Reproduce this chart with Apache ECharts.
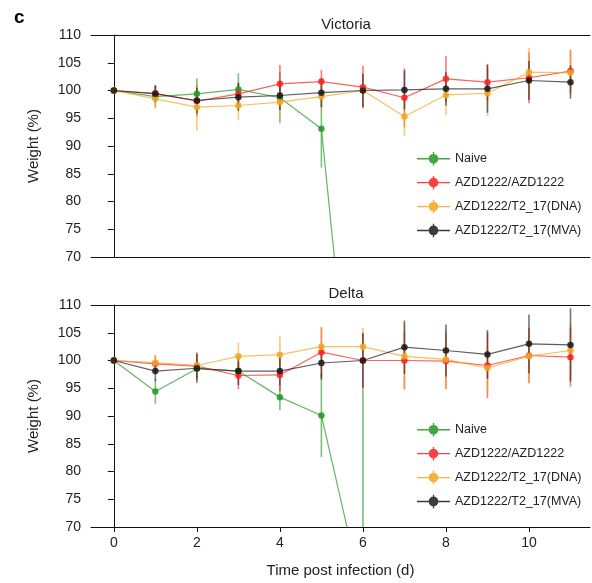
<!DOCTYPE html>
<html>
<head>
<meta charset="utf-8">
<script src="https://cdn.jsdelivr.net/npm/echarts@6/dist/echarts.min.js"></script>
<style>
  html, body { margin: 0; padding: 0; background: #fff; }
  #chart { width: 592px; height: 583px; }
</style>
</head>
<body>
<div id="chart"></div>
<script>
// days post infection
const days = [0, 1, 2, 3, 4, 5, 6, 7, 8, 9, 10, 11];
const xTicks = [0, 2, 4, 6, 8, 10];
const groups = ['Naive', 'AZD1222/AZD1222', 'AZD1222/T2_17(DNA)', 'AZD1222/T2_17(MVA)'];

// Victoria panel (mean weight %, error)
const vicNaive = [100, 98.9, 99.4, 100.2, 98.7, 93.1, 19];
const vicNaiveErr = [0, 1.9, 2.8, 2.9, 4.6, 7.0, 0];
const vicAzd = [100, 99.5, 98.1, 99.4, 101.2, 101.6, 100.6, 98.7, 102.1, 101.5, 102.3, 103.5];
const vicAzdErr = [0, 1.5, 2.8, 2.0, 3.4, 2.1, 3.8, 5.3, 4.1, 3.3, 4.6, 3.8];
const vicDna = [100, 98.5, 97.0, 97.3, 97.9, 98.9, 100.0, 95.3, 99.2, 99.5, 103.3, 103.2];
const vicDnaErr = [0, 1.8, 4.2, 2.7, 2.3, 2.5, 3.0, 3.5, 3.6, 4.1, 4.4, 4.0];
const vicMva = [100, 99.4, 98.2, 98.8, 99.1, 99.6, 100.0, 100.1, 100.3, 100.3, 101.8, 101.5];
const vicMvaErr = [0, 1.5, 2.3, 2.5, 2.6, 2.6, 3.0, 3.5, 3.0, 4.3, 3.5, 3.0];

// Delta panel
const delNaive = [100, 94.4, 98.5, 98.1, 93.4, 90.1, 57.5];
const delNaiveErr = [0, 2.2, 1.5, 1.5, 2.3, 7.5, 37.5];
const delAzd = [100, 99.4, 99.0, 97.3, 97.4, 101.5, 100.0, 100.0, 99.9, 99.1, 100.9, 100.6];
const delAzdErr = [0, 1.5, 2.5, 2.5, 3.0, 4.5, 5.0, 5.2, 5.0, 5.9, 5.0, 5.3];
const delDna = [100, 99.6, 99.1, 100.75, 101.05, 102.5, 102.5, 100.75, 100.2, 98.65, 100.8, 101.8];
const delDnaErr = [0, 1.4, 2.0, 2.5, 3.4, 3.5, 3.4, 6.0, 5.4, 4.0, 4.5, 4.8];
const delMva = [100, 98.1, 98.6, 98.1, 98.1, 99.55, 100.0, 102.4, 101.8, 101.1, 103.0, 102.8];
const delMvaErr = [0, 1.8, 2.6, 2.5, 2.5, 3.0, 4.9, 4.8, 4.7, 4.4, 5.3, 6.6];

const rgb = ['34,150,34', '255,30,30', '245,165,30', '25,25,25'];
const FONT = 'Liberation Sans, Arial, sans-serif';
const YMIN = 70, YMAX = 110;
const legendIcon = 'path://M0,6.3h34v1.4h-34z M16.3,0h1.4v14h-1.4z M22,7a5,5 0 1,1 -10,0a5,5 0 1,1 10,0z';

const panels = [
  { means: [vicNaive, vicAzd, vicDna, vicMva], errs: [vicNaiveErr, vicAzdErr, vicDnaErr, vicMvaErr] },
  { means: [delNaive, delAzd, delDna, delMva], errs: [delNaiveErr, delAzdErr, delDnaErr, delMvaErr] }
];

const series = [];
panels.forEach((p, pi) => {
  p.means.forEach((vals, gi) => {
    const errData = vals.map((v, i) => [days[i], v - p.errs[gi][i], v + p.errs[gi][i]]);
    series.push({
      type: 'custom',
      name: groups[gi] + ' err ' + pi,
      xAxisIndex: pi,
      yAxisIndex: pi,
      z: 2 + gi,
      data: errData,
      renderItem: function (params, api) {
        const lo = Math.max(api.value(1), YMIN);
        const hi = Math.min(api.value(2), YMAX);
        if (hi <= lo) return null;
        const a = api.coord([api.value(0), lo]);
        const b = api.coord([api.value(0), hi]);
        return {
          type: 'line',
          shape: { x1: a[0], y1: a[1], x2: b[0], y2: b[1] },
          style: { stroke: 'rgba(' + rgb[gi] + ',0.6)', lineWidth: 1.6 }
        };
      }
    });
    series.push({
      type: 'line',
      name: groups[gi],
      xAxisIndex: pi,
      yAxisIndex: pi,
      z: 6 + gi,
      clip: true,
      data: vals.map((v, i) => [days[i], v]),
      symbol: 'circle',
      symbolSize: 6.5,
      itemStyle: { color: 'rgba(' + rgb[gi] + ',0.85)' },
      lineStyle: { color: 'rgba(' + rgb[gi] + ',0.7)', width: 1.2 },
      emphasis: { disabled: true }
    });
  });
});

const grids = [
  { left: 91, top: 35, width: 499, height: 222 },
  { left: 91, top: 305, width: 499, height: 222 }
];

const xAxes = [];
const yAxes = [];
grids.forEach((g, gi) => {
  xAxes.push({
    type: 'value', gridIndex: gi, min: -0.55, max: 11.47, position: 'bottom',
    axisLine: { show: true, lineStyle: { color: '#111', width: 1 } },
    axisTick: { show: gi === 1, length: 5, lineStyle: { color: '#111' }, customValues: xTicks },
    axisLabel: { show: gi === 1, customValues: xTicks, fontSize: 14, color: '#222', fontFamily: FONT, margin: 9 },
    splitLine: { show: false },
    name: gi === 1 ? 'Time post infection (d)' : '',
    nameLocation: 'middle', nameGap: 36,
    nameTextStyle: { fontSize: 15, color: '#222', fontFamily: FONT }
  });
  yAxes.push({
    type: 'value', gridIndex: gi, min: YMIN, max: YMAX, interval: 5,
    axisLine: { show: true, lineStyle: { color: '#111', width: 1 } },
    axisTick: { show: true, length: 6, lineStyle: { color: '#111' } },
    axisLabel: { fontSize: 14, color: '#222', fontFamily: FONT, margin: 10 },
    splitLine: { show: false },
    name: 'Weight (%)', nameLocation: 'middle', nameGap: 50,
    nameTextStyle: { fontSize: 15, color: '#222', fontFamily: FONT }
  });
});
// top spines
grids.forEach((g, gi) => {
  xAxes.push({
    type: 'value', gridIndex: gi, min: -0.55, max: 11.47, position: 'top',
    axisLine: { show: true, lineStyle: { color: '#111', width: 1 } },
    axisTick: { show: false }, axisLabel: { show: false }, splitLine: { show: false }
  });
});

const legendBase = {
  orient: 'vertical', left: 412, itemWidth: 33, itemHeight: 14, itemGap: 10.3,
  icon: legendIcon, selectedMode: false,
  textStyle: { fontSize: 12.5, color: '#222', fontFamily: FONT },
  data: groups
};

const chart = echarts.init(document.getElementById('chart'), null, { renderer: 'canvas' });
chart.setOption({
  animation: false,
  backgroundColor: '#fff',
  title: [
    { text: 'c', left: 9, top: 3, textStyle: { fontSize: 19, fontWeight: 'bold', color: '#000', fontFamily: FONT } },
    { text: 'Victoria', left: 341, top: 12, textAlign: 'center', textStyle: { fontSize: 15, fontWeight: 'normal', color: '#222', fontFamily: FONT } },
    { text: 'Delta', left: 341, top: 281, textAlign: 'center', textStyle: { fontSize: 15, fontWeight: 'normal', color: '#222', fontFamily: FONT } }
  ],
  legend: [
    Object.assign({}, legendBase, { top: 147 }),
    Object.assign({}, legendBase, { top: 418 })
  ],
  grid: grids,
  xAxis: xAxes,
  yAxis: yAxes,
  series: series
});
</script>
</body>
</html>
